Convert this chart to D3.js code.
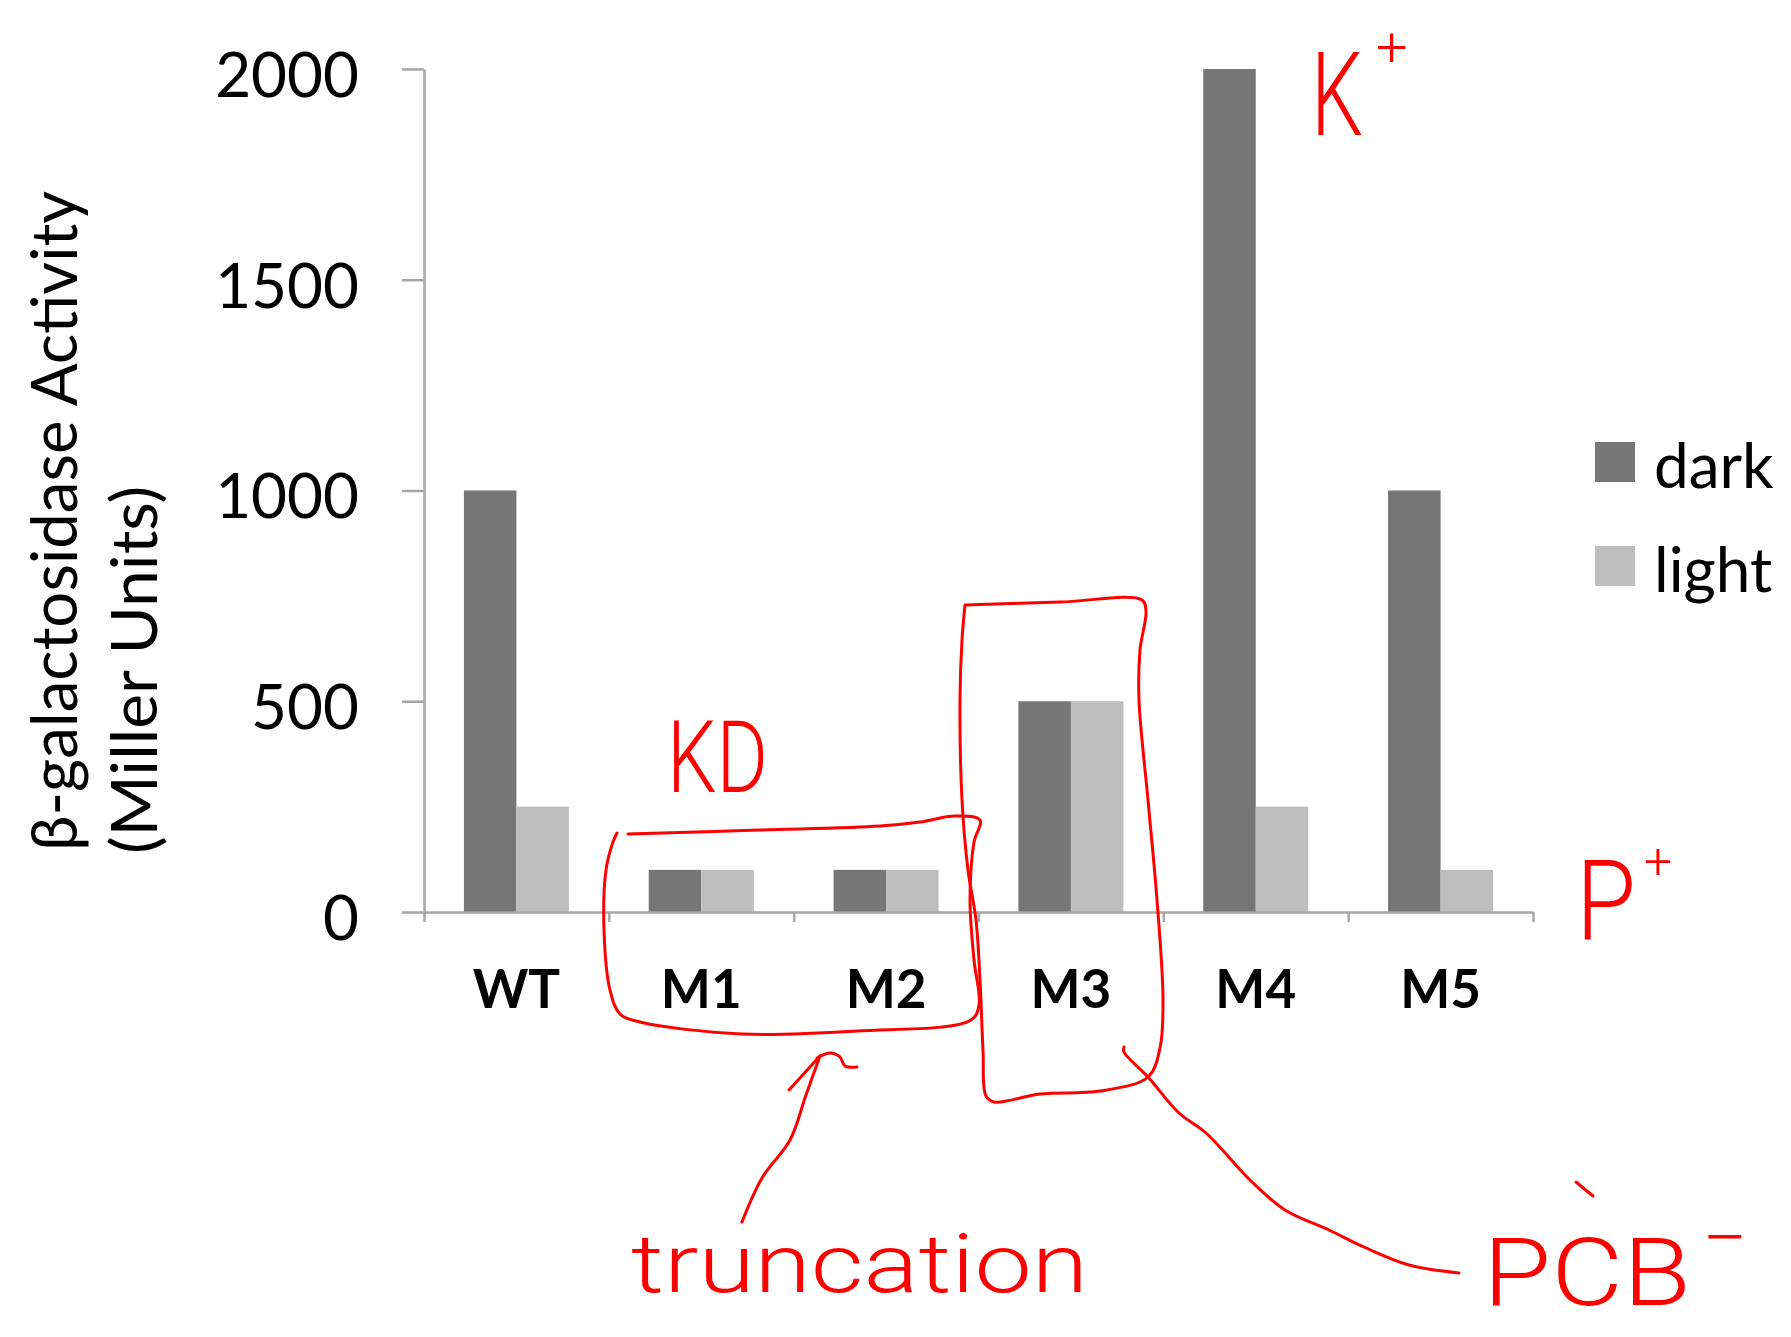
<!DOCTYPE html>
<html lang="en">
    <head>
        <meta charset="utf-8">
        <title>beta-galactosidase activity</title>
        <script type="text/javascript" src="https://cdn.jsdelivr.net/npm/d3@7"></script>
        <style type="text/css">
            body { margin: 0; background: #fff; }
            .axis path, .axis line { stroke: #a6a6a6; stroke-width: 2.5; }
            .axis text { font-family: Lato, "Open Sans", sans-serif; fill: #000; }
            .ink { fill: none; stroke: #ff0000; stroke-width: 3; stroke-linecap: round; stroke-linejoin: round; }
            .inktext { font-family: Roboto, "DejaVu Sans", sans-serif; font-weight: 300; fill: #ff0000; }
        </style>
    </head>
    <body>
        <script type="text/javascript">
            var w = 1791;
            var h = 1337;

            //Data
            var categories = ["WT", "M1", "M2", "M3", "M4", "M5"];
            var series = ["dark", "light"];
            var darkValues = [1000, 100, 100, 500, 2000, 1000];
            var lightValues = [250, 100, 100, 500, 250, 100];
            var yTicks = [0, 500, 1000, 1500, 2000];
            var colors = {dark: "#767676", light: "#bebebe"};

            var x0 = d3.scaleBand()
                .domain(categories)
                .range([424, 1533]);

            var x1 = d3.scaleBand()
                .domain(series)
                .range([0, x0.bandwidth()])
                .paddingOuter(0.76);

            var yScale = d3.scaleLinear()
                .domain([0, 2000])
                .range([912, 69]);

            var svg = d3.select("body")
                .append("svg")
                .attr("width", w)
                .attr("height", h);

            // bars
            var rows = categories.map(function(c, i) {
                return {cat: c, dark: darkValues[i], light: lightValues[i]};
            });

            svg.selectAll("g.group")
                .data(rows)
                .enter()
                .append("g")
                .attr("class", "group")
                .attr("transform", function(d) { return "translate(" + x0(d.cat) + ",0)"; })
                .selectAll("rect")
                .data(function(d) { return series.map(function(s) { return {key: s, value: d[s]}; }); })
                .enter()
                .append("rect")
                .attr("x", function(d) { return x1(d.key); })
                .attr("width", x1.bandwidth())
                .attr("y", function(d) { return yScale(d.value); })
                .attr("height", function(d) { return yScale(0) - yScale(d.value); })
                .attr("fill", function(d) { return colors[d.key]; });

            // y axis
            var yAxis = d3.axisLeft(yScale)
                .tickValues(yTicks)
                .tickSize(22)
                .tickSizeOuter(0)
                .tickPadding(43)
                .tickFormat(d3.format("d"));

            var gy = svg.append("g")
                .attr("class", "axis")
                .attr("transform", "translate(424,0)")
                .call(yAxis);
            gy.selectAll("text")
                .attr("font-size", "62px")
                .attr("dy", "0.44em");

            // x axis: boundary ticks
            var xEdges = d3.scaleLinear().domain([0, categories.length]).range([424, 1533]);
            svg.append("g")
                .attr("class", "axis")
                .attr("transform", "translate(0,912)")
                .call(d3.axisBottom(xEdges).ticks(categories.length).tickSize(10).tickSizeOuter(0).tickFormat(""));

            // x axis: category labels
            var gx = svg.append("g")
                .attr("class", "axis")
                .attr("transform", "translate(0,912)")
                .call(d3.axisBottom(x0).tickSize(0).tickSizeOuter(0));
            gx.select(".domain").remove();
            gx.selectAll("text")
                .attr("font-size", "53px")
                .attr("font-weight", "bold")
                .attr("y", 96)
                .attr("dy", 0);

            // y title, two lines
            var titleLines = [
                {t: "\u03b2-galactosidase Activity", x: 77, y: 851, len: 660},
                {t: "(Miller Units)", x: 157, y: 854, len: 368}
            ];
            svg.selectAll("text.ytitle")
                .data(titleLines)
                .enter()
                .append("text")
                .attr("class", "ytitle")
                .attr("font-family", "Lato, 'Open Sans', sans-serif")
                .attr("font-size", "63px")
                .attr("fill", "#000")
                .attr("textLength", function(d) { return d.len; })
                .attr("lengthAdjust", "spacingAndGlyphs")
                .attr("transform", function(d) { return "translate(" + d.x + "," + d.y + ") rotate(-90)"; })
                .text(function(d) { return d.t; });

            // legend
            var legend = svg.selectAll("g.legend")
                .data(series)
                .enter()
                .append("g")
                .attr("class", "legend")
                .attr("transform", function(d, i) { return "translate(1595," + (442 + i * 104) + ")"; });
            legend.append("rect")
                .attr("width", 40)
                .attr("height", 40)
                .attr("fill", function(d) { return colors[d]; });
            legend.append("text")
                .attr("x", 59)
                .attr("y", 46)
                .attr("font-family", "Lato, 'Open Sans', sans-serif")
                .attr("font-size", "62px")
                .attr("fill", "#000")
                .text(function(d) { return d; });

            // hand-drawn red notes
            var ink = d3.line().curve(d3.curveCatmullRom);
            var strokes = [
                // box round M1/M2
                [[628,834],[760,830],[880,826],[920,822],[955,816],[980,820],[974,842],[970,900],[974,960],[979,1005],[971,1020],[857,1031],[742,1034],[640,1022],[620,1014],[610,990],[604,930],[606,870],[613,842],[617,833]],
                // box round M3
                [[965,605],[1060,602],[1142,600],[1146,611],[1140,650],[1139,700],[1148,800],[1157,900],[1163,1000],[1160,1048],[1148,1077],[1100,1091],[1040,1094],[994,1102],[986,1096],[983,1050],[980,980],[976,920],[968,870],[962,800],[960,700],[962,640],[965,605]],
                // arrow to truncation box
                [[742,1222],[762,1178],[790,1140],[806,1095],[820,1056]],
                [[789,1090],[820,1056]],
                [[817,1058],[830,1053],[840,1057],[845,1066],[857,1067]],
                // curve from M3 to PCB
                [[1124,1047],[1124,1052],[1148,1077],[1179,1113],[1206,1133],[1250,1180],[1285,1210],[1329,1230],[1364,1247],[1409,1265],[1459,1273]],
                // mark over C
                [[1576,1182],[1593,1196]]
            ];
            svg.selectAll("path.ink")
                .data(strokes)
                .enter()
                .append("path")
                .attr("class", "ink")
                .attr("d", ink);

            // notes with a raised sign, as one text each
            var ionNotes = [
                {t: "K", sup: "+", x: 1311, y: 135, s: 116, len: 52, sx: 1376, sy: 66, ss: 56},
                {t: "P", sup: "+", x: 1576, y: 939, s: 112, len: 60, sx: 1644, sy: 878, ss: 50}
            ];
            var ion = svg.selectAll("text.ion")
                .data(ionNotes)
                .enter()
                .append("text")
                .attr("class", "inktext ion")
                .attr("x", function(d) { return d.x; })
                .attr("y", function(d) { return d.y; })
                .attr("font-size", function(d) { return d.s + "px"; });
            ion.append("tspan")
                .attr("textLength", function(d) { return d.len; })
                .attr("lengthAdjust", "spacingAndGlyphs")
                .text(function(d) { return d.t; });
            ion.append("tspan")
                .attr("x", function(d) { return d.sx; })
                .attr("y", function(d) { return d.sy; })
                .attr("font-size", function(d) { return d.ss + "px"; })
                .text(function(d) { return d.sup; });

            var notes = [
                {t: "KD", x: 667, y: 792, s: 100, len: 101},
                {t: "truncation", x: 631, y: 1292, s: 82, len: 457},
                {t: "PCB", x: 1483, y: 1305, s: 94, len: 208},
                {t: "\u2212", x: 1702, y: 1262, s: 70, len: 46}
            ];
            svg.selectAll("text.note")
                .data(notes)
                .enter()
                .append("text")
                .attr("class", "inktext note")
                .attr("x", function(d) { return d.x; })
                .attr("y", function(d) { return d.y; })
                .attr("font-size", function(d) { return d.s + "px"; })
                .attr("textLength", function(d) { return d.len; })
                .attr("lengthAdjust", "spacingAndGlyphs")
                .text(function(d) { return d.t; });
        </script>
    </body>
</html>
